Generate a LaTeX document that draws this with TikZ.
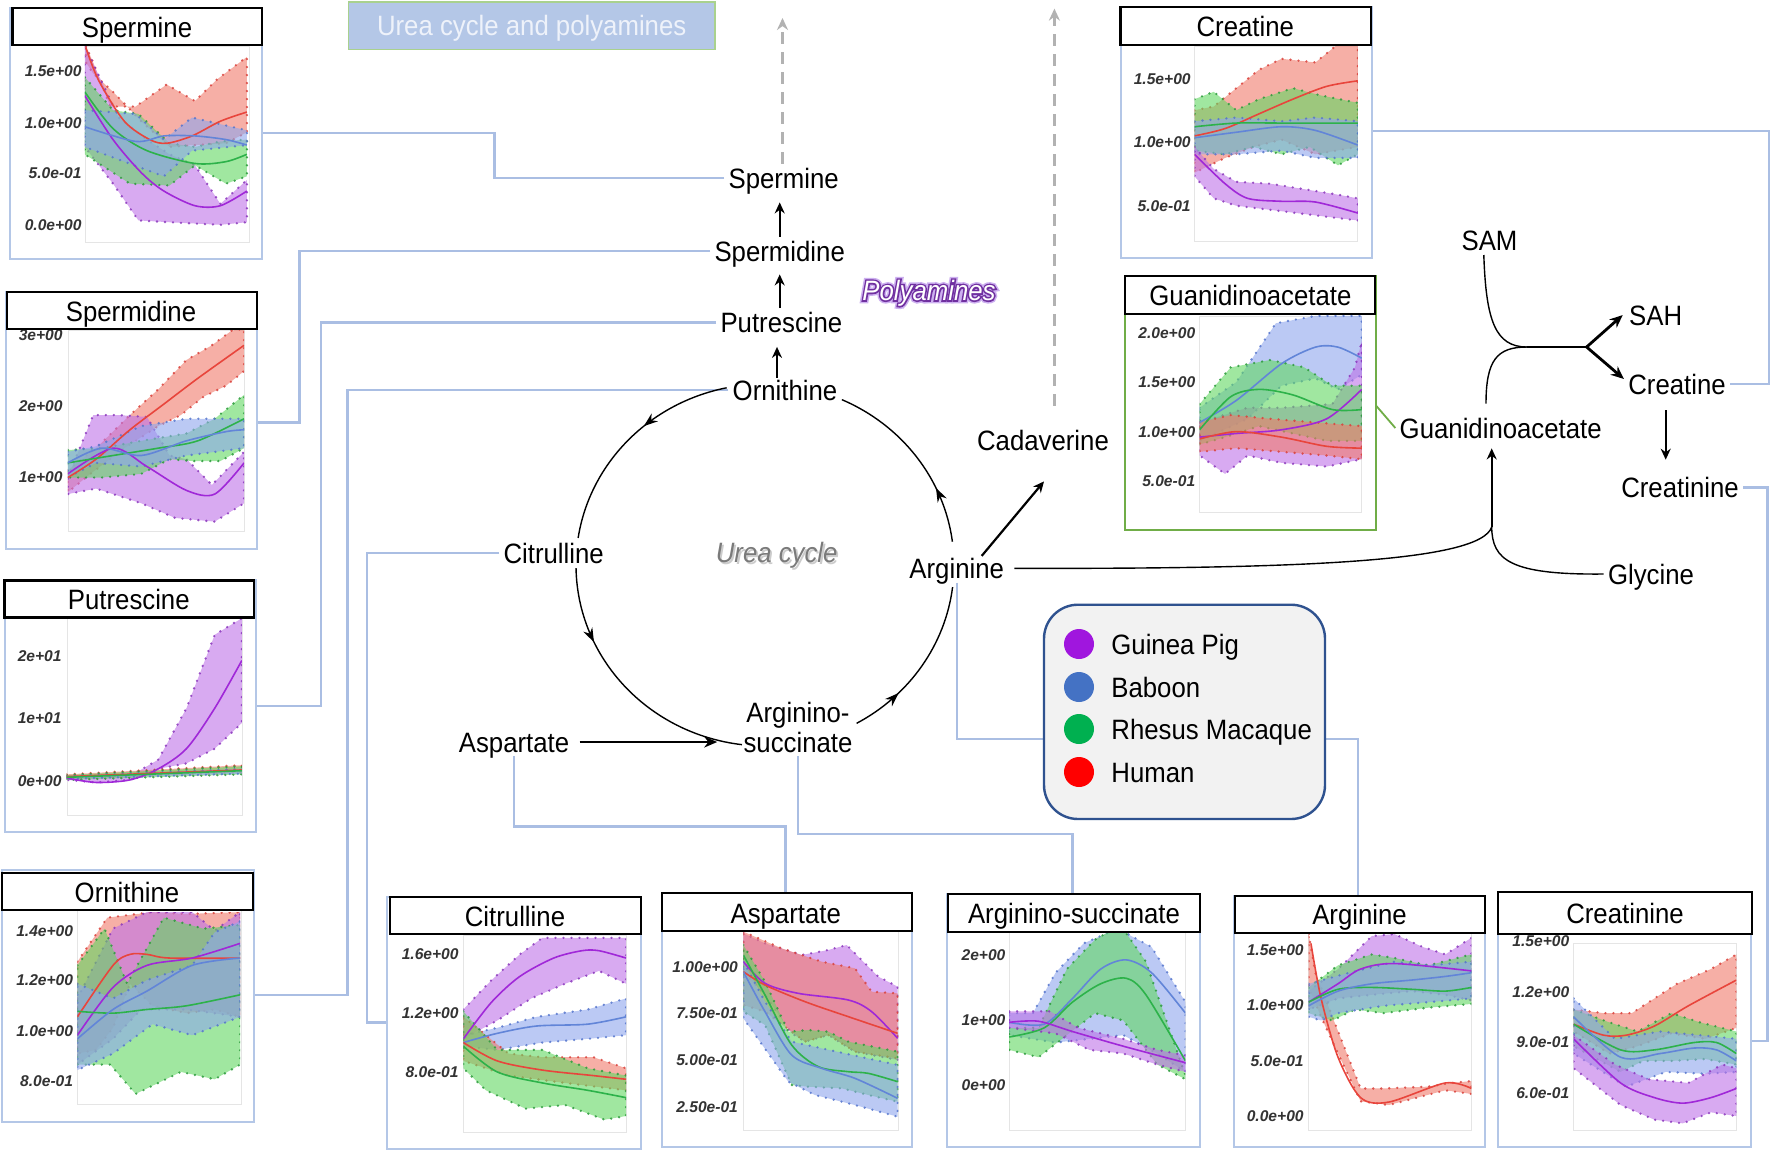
\documentclass[tikz,border=0pt]{standalone}
\usepackage{fontspec}
\setmainfont{Liberation Sans}
\newfontfamily\labf{Liberation Sans}[FakeStretch=0.92]
\newfontfamily\polyo{Liberation Sans}[FakeStretch=0.92, FakeBold=11]
\newfontfamily\polyh{Liberation Sans}[FakeStretch=0.92, FakeBold=22]
\usetikzlibrary{arrows.meta,decorations.markings,calc}
\definecolor{fR}{HTML}{F07A6C}\definecolor{dR}{HTML}{D9403A}\definecolor{lR}{HTML}{E8453C}
\definecolor{fP}{HTML}{BE72E8}\definecolor{dP}{HTML}{8A36BC}\definecolor{lP}{HTML}{A028D8}
\definecolor{fG}{HTML}{62D862}\definecolor{dG}{HTML}{2A9A3A}\definecolor{lG}{HTML}{2DB24A}
\definecolor{fB}{HTML}{8EA6EE}\definecolor{dB}{HTML}{5474CC}\definecolor{lB}{HTML}{6285D8}
\definecolor{boxblue}{HTML}{B4C7E7}\definecolor{connblue}{HTML}{AABEE3}
\definecolor{hdrfill}{HTML}{B4C7E7}\definecolor{hdrline}{HTML}{A9D18E}\definecolor{hdrtext}{HTML}{EEF2FA}
\definecolor{gaagreen}{HTML}{70AD47}\definecolor{legline}{HTML}{2F528F}\definecolor{legfill}{HTML}{F2F2F2}
\definecolor{cPu}{HTML}{A016DE}\definecolor{cBl}{HTML}{4472C4}\definecolor{cGr}{HTML}{00B050}\definecolor{cRe}{HTML}{FF0000}
\definecolor{plav}{HTML}{CDB0F0}\definecolor{pdark}{HTML}{7030A0}
\newcommand\mybnd[2]{\path[#1] plot coordinates {#2} -- cycle;}
\newcommand\mycrv[2]{\draw[#1] plot[smooth, tension=0.5] coordinates {#2};}
\begin{document}
\begin{tikzpicture}[x=0.5pt,y=-0.5pt,
  lab/.style={font=\labf\fontsize{14}{15}\selectfont, inner sep=2pt, text height=10pt, text depth=0pt},
  tick/.style={font=\bfseries\itshape\fontsize{7.8}{8}\selectfont, text=black!80, anchor=east, inner sep=0pt},
  tbox/.style={draw=black, line width=1.1pt, fill=white},
  obox/.style={draw=boxblue, line width=1pt, fill=white},
  pbox/.style={draw=black!10, line width=0.5pt},
  conn/.style={draw=connblue, line width=1.1pt},
  arr/.style={draw=black, line width=1pt, -{Stealth[length=5.5pt,width=5pt]}},
  thk/.style={draw=black, line width=1.4pt, -{Stealth[length=6.5pt,width=5.5pt]}},
  thn/.style={draw=black, line width=0.7pt},
  cyca/.style={thn, postaction={decorate, decoration={markings, mark=at position #1 with {\arrow{Stealth[length=7pt,width=5pt]}}}}},
  darr/.style={draw=black!30, line width=1.1pt, dash pattern=on 6pt off 4pt, -{Stealth[length=6pt,width=5.5pt]}},
  zq/.style={x=0.28252pt, y=-0.18367pt},
  bnd/.style={fill opacity=0.6, draw opacity=0.85, line width=1.3pt, dash pattern=on 0pt off 4pt, line cap=round},
  bR/.style={bnd, fill=fR, draw=dR},
  bP/.style={bnd, fill=fP, draw=dP},
  bG/.style={bnd, fill=fG, draw=dG},
  bB/.style={bnd, fill=fB, draw=dB},
  kR/.style={draw=lR, line width=0.8pt},
  kP/.style={draw=lP, line width=0.8pt},
  kG/.style={draw=lG, line width=0.8pt},
  kB/.style={draw=lB, line width=0.8pt},
  pa/.style={font=\labf\itshape\fontsize{14}{15}\selectfont, inner sep=0pt}
]
\useasboundingbox (0,0) rectangle (1772,1152);
\fill[white] (0,0) rectangle (1772,1152);

% header
\draw[fill=hdrfill, draw=hdrline, line width=0.8pt] (348.3,1.7) rectangle (715,49.3);
\node[lab, text=hdrtext] (hdr) at (531.7,25.5) {Urea cycle and polyamines};

% pathway labels
\node[lab] (spmL) at (783.7,178) {Spermine};
\node[lab] (spdL) at (779.7,251) {Spermidine};
\node[lab] (putL) at (781.4,322.5) {Putrescine};
\node[lab] (ornL) at (785,390) {Ornithine};
\node[lab] (citL) at (553.7,553) {Citrulline};
\node[lab] (cadL) at (1043,440) {Cadaverine};
\node[lab] (argL) at (956.7,568.3) {Arginine};
\node[lab] (aspL) at (514,742) {Aspartate};
\node[lab, align=center] (asL) at (798,742) {Arginino-\\succinate};
\node[lab] (gaaL) at (1500.7,428) {Guanidinoacetate};
\node[lab] (samL) at (1489.5,240.6) {SAM};
\node[lab] (sahL) at (1655.6,315) {SAH};
\node[lab] (crL) at (1677,384) {Creatine};
\node[lab] (crnL) at (1680,487.5) {Creatinine};
\node[lab] (glyL) at (1651,574) {Glycine};

% blue connectors
\draw[conn] (spmL.west) -| (494.4,133) -- (261.6,133);
\draw[conn] (spdL.west) -| (299.5,422.5) -- (257,422.5);
\draw[conn] (putL.west) -| (321,705.7) -- (256,705.7);
\draw[conn] (ornL.west) -| (347.5,995) -- (253.7,995);
\draw[conn] (citL.west) -| (367,1022.4) -- (387,1022.4);
\draw[conn] (aspL.south) |- (785.4,826.5) -- (785.4,893.3);
\draw[conn] (asL.south) |- (1072.5,834) -- (1072.5,894);
\draw[conn] (argL.south) |- (1358.3,738.7) -- (1358.3,895.6);
\draw[conn] (crnL.east) -| (1767.4,1041) -- (1750.5,1041);
\draw[conn] (crL.east) -| (1769,131) -- (1372,131);
\draw[draw=gaagreen, line width=0.9pt] (1376.4,406) -- (gaaL.west);

% ---------- panels: outer boxes and plot areas
\draw[obox] (10,8.1) rectangle (261.6,259);
\draw[obox] (5.6,292) rectangle (257,548.5);
\draw[obox] (4.5,580.4) rectangle (256,832);
\draw[obox] (2.3,870) rectangle (253.7,1121.6);
\draw[obox] (387,896.7) rectangle (641,1149);
\draw[obox] (661.7,893.3) rectangle (911.7,1146.7);
\draw[obox] (947,894) rectangle (1199.6,1146.5);
\draw[obox] (1233.5,895.6) rectangle (1485,1147);
\draw[obox] (1498,892) rectangle (1750.5,1147);
\draw[obox] (1120.5,7.3) rectangle (1372,258.3);
\draw[draw=gaagreen, line width=1pt, fill=white] (1125,276.3) rectangle (1376.4,529.7);

\draw[pbox] (85,46) rectangle (249,242.5);
\draw[pbox] (68,330.6) rectangle (244,531);
\draw[pbox] (67,618) rectangle (242,815);
\draw[pbox] (77,910) rectangle (241,1104);
\draw[pbox] (463,935) rectangle (626,1132.6);
\draw[pbox] (743.3,931.7) rectangle (898.3,1130);
\draw[pbox] (1009,932) rectangle (1185.5,1130);
\draw[pbox] (1308.6,933) rectangle (1471,1130);
\draw[pbox] (1573.6,943.4) rectangle (1736,1130);
\draw[pbox] (1194.5,46) rectangle (1357.8,241.4);
\draw[pbox] (1199.6,316) rectangle (1361.7,512.5);

% ---------- charts (zoom-1 / zoom-3 coordinates)
\begin{scope}[zq]
 \begin{scope}
  \clip (150,125) rectangle (440,660);
  \mybnd{bR}{(152,125) (165,170) (195,290) (240,290) (295,230) (345,275) (385,215) (437,155) (437,360) (400,390) (345,395) (300,400) (250,330) (200,250) (165,200) (152,170)}
  \mybnd{bP}{(150,125) (170,190) (210,320) (260,380) (300,420) (345,450) (390,555) (437,490) (437,605) (390,612) (300,605) (245,600) (200,500) (150,400)}
  \mybnd{bG}{(150,210) (200,300) (245,310) (300,390) (345,400) (390,385) (437,380) (437,480) (400,500) (345,450) (300,505) (230,500) (150,420)}
  \mybnd{bB}{(150,300) (240,310) (290,380) (340,320) (437,355) (437,395) (340,410) (290,480) (150,400)}
  \mycrv{kR}{(152,130) (175,220) (220,330) (265,380) (295,390) (340,370) (390,330) (437,305)}
  \mycrv{kP}{(150,260) (200,380) (250,470) (290,520) (345,560) (390,560) (437,520)}
  \mycrv{kG}{(150,250) (200,350) (260,410) (345,445) (400,440) (437,420)}
  \mycrv{kB}{(150,345) (240,385) (290,370) (345,370) (400,380) (437,395)}
 \end{scope}
 \begin{scope}
  \clip (120,900) rectangle (432,1445);
  \mybnd{bR}{(120,1280) (170,1220) (230,1130) (280,1060) (330,980) (375,940) (410,900) (432,895) (432,1010) (400,1050) (360,1080) (320,1130) (280,1160) (220,1220) (160,1290) (120,1340)}
  \mybnd{bP}{(120,1300) (165,1130) (210,1130) (260,1135) (300,1240) (330,1250) (375,1320) (432,1230) (432,1370) (380,1420) (310,1410) (250,1370) (170,1330) (120,1345)}
  \mybnd{bG}{(120,1225) (180,1220) (250,1200) (330,1180) (380,1140) (432,1075) (432,1220) (390,1255) (340,1255) (300,1250) (250,1290) (180,1300) (120,1300)}
  \mybnd{bB}{(120,1230) (170,1215) (250,1160) (330,1140) (432,1140) (432,1220) (330,1240) (250,1270) (170,1260) (120,1300)}
  \mycrv{kR}{(120,1300) (170,1250) (230,1170) (290,1100) (350,1030) (432,940)}
  \mycrv{kP}{(120,1290) (200,1220) (260,1270) (330,1335) (380,1345) (432,1260)}
  \mycrv{kG}{(120,1260) (200,1240) (280,1220) (350,1200) (432,1140)}
  \mycrv{kB}{(120,1260) (180,1220) (250,1240) (330,1200) (400,1175) (432,1170)}
 \end{scope}
\end{scope}
\begin{scope}[shift={(0,576)}, zq]
 \begin{scope}
  \clip (118,115) rectangle (428,650);
  \mybnd{bP}{(118,545) (230,545) (280,500) (330,360) (380,160) (428,115) (428,400) (380,470) (330,510) (280,525) (230,555) (170,562) (118,555)}
  \mybnd{bR}{(118,540) (428,515) (428,535) (118,552)}
  \mybnd{bG}{(118,542) (428,518) (428,540) (118,555)}
  \mybnd{bB}{(118,545) (428,525) (428,538) (118,552)}
  \mycrv{kP}{(118,550) (170,562) (230,555) (280,525) (330,470) (380,360) (428,230)}
  \mycrv{kR}{(118,546) (428,528)}
  \mycrv{kG}{(118,548) (428,530)}
 \end{scope}
 \begin{scope}
  \clip (137,915) rectangle (425,1440);
  \mybnd{bR}{(137,1050) (190,930) (270,915) (330,920) (425,915) (425,1200) (380,1180) (330,1190) (270,1170) (230,1110) (200,1230) (170,1290) (137,1300)}
  \mybnd{bP}{(137,1150) (200,960) (260,915) (340,915) (380,965) (425,915) (425,1200) (330,1180) (250,1180) (200,1260) (137,1330)}
  \mybnd{bG}{(137,1060) (185,960) (225,1110) (290,930) (360,960) (425,950) (425,1330) (380,1370) (320,1350) (240,1410) (195,1330) (137,1330)}
  \mybnd{bB}{(137,1110) (200,1150) (260,1100) (340,1060) (380,970) (425,940) (425,1200) (340,1250) (270,1220) (200,1300) (137,1345)}
  \mycrv{kR}{(137,1200) (200,1060) (230,1030) (260,1030) (300,1040) (425,1040)}
  \mycrv{kP}{(137,1250) (200,1120) (260,1060) (340,1040) (425,1000)}
  \mycrv{kG}{(137,1185) (200,1190) (260,1180) (330,1170) (425,1140)}
  \mycrv{kB}{(137,1260) (200,1180) (260,1130) (340,1060) (425,1040)}
 \end{scope}
 \begin{scope}
  \clip (820,980) rectangle (1108,1515);
  \mybnd{bP}{(820,1180) (870,1100) (920,1030) (960,985) (1108,985) (1108,1110) (1060,1075) (1000,1110) (940,1150) (880,1210) (820,1260)}
  \mybnd{bB}{(820,1250) (880,1230) (950,1200) (1040,1180) (1108,1150) (1108,1250) (1040,1260) (960,1270) (880,1290) (820,1280)}
  \mybnd{bR}{(820,1200) (900,1300) (960,1310) (1050,1310) (1108,1340) (1108,1400) (1000,1380) (900,1360) (820,1320)}
  \mybnd{bG}{(820,1185) (880,1290) (960,1290) (1040,1340) (1108,1360) (1108,1470) (1070,1480) (1000,1440) (930,1450) (860,1400) (820,1340)}
  \mycrv{kP}{(820,1260) (870,1160) (920,1090) (980,1040) (1030,1020) (1060,1020) (1108,1040)}
  \mycrv{kB}{(820,1270) (880,1245) (950,1225) (1040,1220) (1108,1200)}
  \mycrv{kR}{(820,1270) (880,1320) (960,1345) (1050,1360) (1108,1370)}
  \mycrv{kG}{(820,1280) (880,1350) (960,1380) (1040,1400) (1108,1420)}
 \end{scope}
\end{scope}
% aspartate (zoom-5 coordinates)
\begin{scope}[shift={(655,885)}, x=0.16667pt, y=-0.16667pt]
  \clip (265,140) rectangle (730,735);
  \mybnd{bP}{(265,145) (330,175) (440,210) (520,195) (575,180) (630,235) (670,275) (728,305) (728,525) (600,500) (520,450) (450,470) (410,445) (330,330) (265,260)}
  \mybnd{bR}{(265,140) (380,190) (500,230) (600,250) (650,320) (728,325) (728,520) (600,500) (520,450) (450,470) (410,440) (330,380) (265,360)}
  \mybnd{bG}{(265,180) (330,290) (400,440) (460,435) (520,440) (580,470) (728,500) (728,650) (640,630) (560,610) (460,605) (410,600) (330,420) (265,380)}
  \mybnd{bB}{(265,230) (330,350) (410,470) (500,490) (728,540) (728,695) (600,660) (480,630) (400,590) (265,400)}
  \mycrv{kP}{(265,230) (330,295) (430,325) (580,345) (650,380) (728,460)}
  \mycrv{kR}{(265,260) (330,300) (450,350) (580,395) (728,445)}
  \mycrv{kG}{(265,210) (330,330) (410,480) (490,545) (580,560) (640,565) (728,590)}
  \mycrv{kB}{(265,260) (330,380) (410,510) (500,550) (600,580) (728,640)}
\end{scope}
% zoom-4 coordinates
\begin{scope}[shift={(886,576)}, zq]
 \begin{scope}
  \clip (218,970) rectangle (530,1508);
  \mybnd{bB}{(218,1190) (260,1190) (300,1080) (350,1000) (410,960) (470,1010) (530,1160) (530,1350) (480,1300) (420,1250) (360,1260) (300,1270) (218,1250)}
  \mybnd{bG}{(218,1230) (270,1230) (320,1070) (370,990) (415,950) (460,1050) (530,1360) (530,1370) (480,1330) (420,1210) (370,1190) (320,1250) (270,1310) (218,1290)}
  \mybnd{bP}{(218,1185) (290,1185) (340,1230) (420,1260) (480,1290) (530,1305) (530,1350) (480,1330) (420,1300) (360,1290) (300,1245) (218,1230)}
  \mycrv{kB}{(218,1215) (280,1220) (330,1150) (380,1070) (425,1045) (470,1080) (530,1190)}
  \mycrv{kG}{(218,1255) (280,1230) (330,1160) (380,1110) (425,1095) (460,1140) (530,1320)}
  \mycrv{kP}{(218,1215) (270,1212) (330,1240) (420,1280) (530,1325)}
 \end{scope}
 \begin{scope}
  \clip (748,975) rectangle (1036,1508);
  \mybnd{bR}{(748,975) (760,1080) (790,1200) (840,1395) (880,1395) (960,1390) (1000,1380) (1036,1375) (1036,1410) (990,1400) (940,1420) (890,1440) (840,1430) (800,1300) (770,1200) (748,1120)}
  \mybnd{bP}{(748,1130) (800,1070) (860,980) (900,975) (950,1010) (990,1030) (1036,985) (1036,1155) (990,1140) (930,1130) (860,1140) (800,1150) (748,1180)}
  \mybnd{bG}{(748,1120) (800,1060) (860,1030) (900,1040) (960,1060) (1036,1030) (1036,1165) (960,1175) (880,1190) (830,1180) (790,1210) (748,1190)}
  \mybnd{bB}{(748,1110) (820,1080) (900,1050) (960,1060) (1036,1050) (1036,1150) (960,1160) (880,1170) (800,1190) (770,1210) (748,1200)}
  \mycrv{kR}{(752,1000) (770,1150) (800,1310) (840,1420) (890,1432) (990,1380) (1036,1395)}
  \mycrv{kP}{(748,1160) (800,1110) (840,1070) (900,1055) (1036,1075)}
  \mycrv{kG}{(748,1160) (800,1125) (860,1120) (930,1125) (990,1130) (1036,1120)}
  \mycrv{kB}{(748,1170) (800,1130) (860,1110) (930,1100) (990,1090) (1036,1080)}
 \end{scope}
 \begin{scope}
  \clip (1217,1000) rectangle (1505,1515);
  \mybnd{bR}{(1217,1180) (1270,1190) (1320,1190) (1400,1110) (1460,1070) (1505,1030) (1505,1230) (1450,1260) (1390,1245) (1330,1280) (1280,1300) (1217,1240)}
  \mybnd{bG}{(1217,1180) (1280,1215) (1330,1240) (1390,1190) (1440,1215) (1505,1240) (1505,1330) (1450,1315) (1390,1320) (1340,1320) (1300,1350) (1217,1280)}
  \mybnd{bB}{(1217,1150) (1290,1260) (1370,1240) (1440,1250) (1505,1260) (1505,1350) (1450,1355) (1380,1350) (1310,1390) (1217,1300)}
  \mybnd{bP}{(1217,1250) (1290,1330) (1350,1370) (1420,1380) (1480,1330) (1505,1340) (1505,1470) (1460,1460) (1410,1490) (1360,1480) (1300,1440) (1217,1340)}
  \mycrv{kR}{(1217,1220) (1270,1250) (1310,1250) (1360,1225) (1420,1170) (1505,1100)}
  \mycrv{kG}{(1217,1220) (1300,1290) (1360,1290) (1430,1270) (1470,1270) (1505,1300)}
  \mycrv{kB}{(1217,1200) (1300,1310) (1370,1300) (1430,1285) (1470,1290) (1505,1320)}
  \mycrv{kP}{(1217,1260) (1300,1380) (1360,1420) (1410,1435) (1460,1420) (1505,1395)}
 \end{scope}
\end{scope}
% zoom-2 coordinates
\begin{scope}[shift={(886,0)}, zq]
 \begin{scope}
  \clip (546,126) rectangle (835,657);
  \mybnd{bR}{(546,300) (580,290) (620,240) (660,190) (700,160) (760,170) (800,120) (835,120) (835,400) (760,420) (700,380) (650,400) (600,430) (546,470)}
  \mybnd{bG}{(546,270) (580,250) (620,300) (660,270) (720,240) (770,260) (835,280) (835,420) (800,450) (750,400) (700,420) (650,400) (600,420) (546,410)}
  \mybnd{bB}{(546,330) (620,320) (700,330) (760,320) (835,330) (835,430) (760,430) (700,410) (620,420) (546,420)}
  \mybnd{bP}{(546,400) (580,460) (620,495) (680,500) (740,515) (800,530) (835,540) (835,600) (780,590) (700,575) (620,560) (580,540) (546,480)}
  \mycrv{kR}{(546,370) (600,350) (660,310) (720,270) (780,235) (835,220)}
  \mycrv{kG}{(546,345) (620,335) (700,335) (835,335)}
  \mycrv{kB}{(546,375) (620,360) (700,345) (760,355) (835,395)}
  \mycrv{kP}{(546,420) (600,500) (640,540) (700,548) (760,550) (835,580)}
 \end{scope}
 \begin{scope}
  \clip (555,860) rectangle (842,1395);
  \mybnd{bB}{(555,1110) (620,1040) (690,880) (760,860) (842,860) (842,1020) (800,1060) (760,1030) (700,1050) (640,1140) (555,1200)}
  \mybnd{bP}{(555,1150) (640,1110) (700,1110) (790,1100) (830,1000) (842,930) (842,1250) (780,1270) (700,1260) (640,1240) (600,1290) (555,1240)}
  \mybnd{bG}{(555,1100) (610,1000) (680,980) (740,1000) (790,1050) (842,1050) (842,1200) (780,1200) (720,1180) (660,1160) (600,1190) (555,1210)}
  \mybnd{bR}{(555,1150) (610,1130) (680,1140) (760,1150) (842,1160) (842,1250) (780,1240) (700,1230) (620,1220) (555,1230)}
  \mycrv{kB}{(555,1150) (620,1090) (700,990) (760,945) (800,945) (842,975)}
  \mycrv{kP}{(555,1190) (620,1180) (700,1170) (780,1140) (842,1060)}
  \mycrv{kG}{(555,1170) (610,1080) (660,1060) (720,1075) (790,1115) (842,1115)}
  \mycrv{kR}{(555,1195) (620,1175) (700,1190) (780,1215) (842,1220)}
 \end{scope}
\end{scope}

% tick labels
\foreach \yy/\tv in {71.6/1.5e+00,123/1.0e+00,173.5/5.0e-01,225/0.0e+00} \node[tick] at (82,\yy) {\tv};
\foreach \yy/\tv in {335/3e+00,406/2e+00,476.7/1e+00} \node[tick] at (63,\yy) {\tv};
\foreach \yy/\tv in {656/2e+01,718.6/1e+01,781/0e+00} \node[tick] at (62,\yy) {\tv};
\foreach \yy/\tv in {930.7/1.4e+00,980/1.2e+00,1031/1.0e+00,1081.5/8.0e-01} \node[tick] at (73.5,\yy) {\tv};
\foreach \yy/\tv in {954.6/1.6e+00,1013/1.2e+00,1072/8.0e-01} \node[tick] at (459,\yy) {\tv};
\foreach \yy/\tv in {966.7/1.00e+00,1012.7/7.50e-01,1060/5.00e-01,1106.7/2.50e-01} \node[tick] at (738.3,\yy) {\tv};
\foreach \yy/\tv in {955/2e+00,1020.6/1e+00,1085/0e+00} \node[tick] at (1005.8,\yy) {\tv};
\foreach \yy/\tv in {950/1.5e+00,1005/1.0e+00,1061/5.0e-01,1116/0.0e+00} \node[tick] at (1304,\yy) {\tv};
\foreach \yy/\tv in {941.6/1.5e+00,992/1.2e+00,1042.6/9.0e-01,1093.6/6.0e-01} \node[tick] at (1569.6,\yy) {\tv};
\foreach \yy/\tv in {79/1.5e+00,142.6/1.0e+00,206.6/5.0e-01} \node[tick] at (1191,\yy) {\tv};
\foreach \yy/\tv in {332.7/2.0e+00,382/1.5e+00,432/1.0e+00,481.6/5.0e-01} \node[tick] at (1195.6,\yy) {\tv};

% title boxes
\draw[tbox] (12.4,8.1) rectangle (261.6,44.8);   \node[lab] (tSpm) at (137,27) {Spermine};
\draw[tbox] (6.8,292) rectangle (257,329);       \node[lab] (tSpd) at (131,311) {Spermidine};
\draw[tbox] (4.5,580.4) rectangle (254,617.5);   \node[lab] (tPut) at (128.8,599.5) {Putrescine};
\draw[tbox] (2.3,873) rectangle (252.6,910.3);   \node[lab] (tOrn) at (127,892.2) {Ornithine};
\draw[tbox] (390,896.7) rectangle (641,934);     \node[lab] (tCit) at (515,916) {Citrulline};
\draw[tbox] (662.3,893.3) rectangle (911.7,931); \node[lab] (tAsp) at (785.7,913) {Aspartate};
\draw[tbox] (948,894) rectangle (1199.6,931.6);  \node[lab] (tAs) at (1074,913) {Arginino-succinate};
\draw[tbox] (1234.6,895.6) rectangle (1485,933); \node[lab] (tArg) at (1359.5,914.5) {Arginine};
\draw[tbox] (1498,892) rectangle (1751.6,934.2); \node[lab] (tCrn) at (1625,913.5) {Creatinine};
\draw[tbox] (1120.5,7.3) rectangle (1370.8,44.8);\node[lab] (tCr) at (1245.3,26.5) {Creatine};
\draw[tbox] (1125,276.3) rectangle (1375.3,314); \node[lab] (tGaa) at (1250.4,295.5) {Guanidinoacetate};

% dashed grey arrows
\draw[darr] ([xshift=-0.6pt]spmL.north) -- ([xshift=-0.6pt]spmL.north |- 0,18);
\draw[darr] ($(cadL.north)+(11.4,-20)$) -- ($(cadL.north)+(11.4,-417)$);

% polyamine arrows
\draw[arr, shorten >=5pt] (spdL.north) -- (spdL.north |- spmL.south);
\draw[arr, shorten >=4.5pt] ([xshift=-0.85pt]putL.north) -- ([xshift=-0.85pt]putL.north |- spdL.south);
\draw[arr, shorten <=-1pt, shorten >=5pt] ([xshift=-4pt]ornL.north) -- ([xshift=-4pt]ornL.north |- putL.south);

% urea cycle arcs (ellipse centre (765,565), radii 189/181)
\coordinate (uc) at (765,565);
\draw[cyca=0.41] (uc) ++(258.3:189 and 181) arc[start angle=258.3, end angle=188.6, x radius=189, y radius=181];
\draw[cyca=0.29] (uc) ++(179:189 and 181) arc[start angle=179, end angle=97, x radius=189, y radius=181];
\draw[cyca=0.30] (uc) ++(61:189 and 181) arc[start angle=61, end angle=7, x radius=189, y radius=181];
\draw[cyca=0.30] (uc) ++(-7.4:189 and 181) arc[start angle=-7.4, end angle=-66, x radius=189, y radius=181];

% urea cycle text
\node[pa, text=black!20] at (778.5,557.5) {Urea cycle};
\node[pa, text=black!52] (ureaL) at (776.7,555) {Urea cycle};
% polyamines text (halo, outline, fill)
\node[pa, font=\polyh\itshape\fontsize{14}{15}\selectfont, text=plav] at (929,293) {Polyamines};
\node[pa, font=\polyo\itshape\fontsize{14}{15}\selectfont, text=pdark] at (929,293) {Polyamines};
\node[pa, text=white] (polyL) at (929,293) {Polyamines};

% aspartate, cadaverine
\draw[thk, shorten <=3pt, shorten >=11pt] (aspL.east) -- (asL.west |- aspL.east);
\draw[arr, line width=1.1pt] ($(argL.north)+(25,2)$) -- ($(cadL.south)+(1,27)$);

% arginine -> guanidinoacetate, glycine
\coordinate (j) at (1491.7,527);
\draw[thn, shorten <=3pt] (argL.east) .. controls (1300,569) and (1480,562) .. (j);
\draw[thn] (glyL.west) .. controls (1510,575) and (1492,560) .. (j);
\draw[arr, line width=1.1pt, shorten >=3pt] (j) -- (j |- gaaL.south);

% SAM + guanidinoacetate -> SAH + creatine
\coordinate (m1) at (1527,347);
\coordinate (m2) at (1586.6,347);
\draw[thn] ($(samL.south)+(-5.7,0)$) .. controls (1486,320) and (1495,347) .. (m1);
\draw[thn] ($(gaaL.north)+(-14.7,-10)$) .. controls (1486,360) and (1497,347) .. (m1);
\draw[thn] (m1) -- (m2);
\draw[thk] (m2) -- ($(sahL.west)+(-2,0)$);
\draw[thk] (m2) -- ($(crL.west)+(0,-5)$);
\draw[arr, line width=1.1pt, shorten <=6pt, shorten >=6.7pt] ([xshift=-5.65pt]crL.south) -- ([xshift=-5.65pt]crL.south |- crnL.north);

% legend
\draw[fill=legfill, draw=legline, line width=1.2pt, rounded corners=17pt] (1044,604.7) rectangle (1325,819);
\fill[cPu] (1079,644) circle (15);
\fill[cBl] (1079,687) circle (15);
\fill[cGr] (1079,729) circle (15);
\fill[cRe] (1079,772) circle (15);
\node[lab, anchor=west] (lg1) at (1107,644) {Guinea Pig};
\node[lab, anchor=west] (lg2) at (1107,687) {Baboon};
\node[lab, anchor=west] (lg3) at (1107,729) {Rhesus Macaque};
\node[lab, anchor=west] (lg4) at (1107,772) {Human};
\end{tikzpicture}
\end{document}
